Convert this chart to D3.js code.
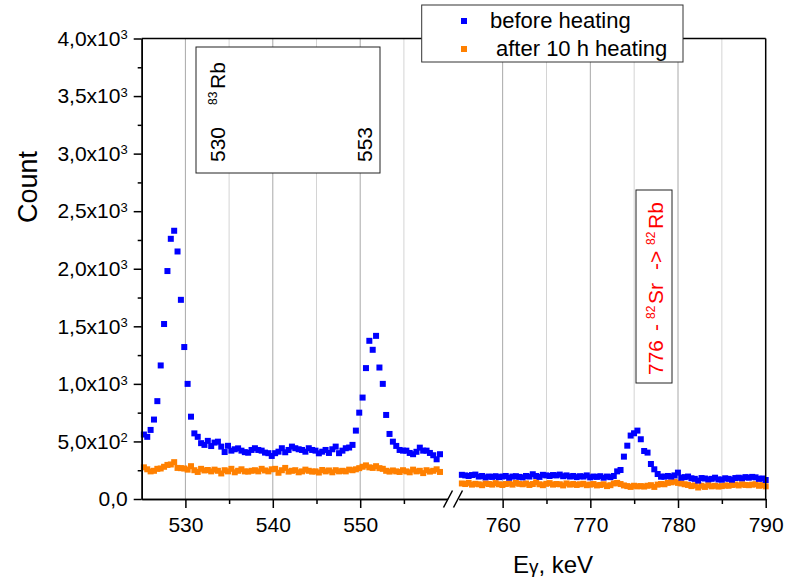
<!DOCTYPE html>
<html>
<head>
<meta charset="utf-8">
<script src="https://cdn.jsdelivr.net/npm/d3@7"></script>
<style>
    body { margin: 0; background: #fff; }
    svg { font-family: Arial, "Liberation Sans", sans-serif; }
</style>
</head>
<body>
<svg id="chart" width="794" height="580"></svg>
<script>
// channel calibration of the two windows (keV)
const seg1Start = 525.25;
const seg2Start = 755.35;
const channelWidth = 0.385;

// counts, window 525-560 keV
const before1 = [560, 540, 600, 690, 850, 1160, 1520, 1980, 2260, 2330, 2150, 1730, 1320, 1000, 715, 570, 540, 485,
    470, 505, 460, 490, 498, 455, 408, 462, 420, 432, 440, 420, 407, 402, 426, 441, 426, 420, 403, 398, 374, 398,
    411, 441, 406, 426, 455, 441, 432, 426, 411, 441, 426, 420, 397, 411, 426, 400, 432, 455, 398, 420, 441, 447,
    470, 594, 750, 881, 1137, 1374, 1296, 1417, 1142, 1000, 730, 565, 498, 461, 426, 420, 420, 400, 389, 410, 446,
    420, 420, 400, 380, 345, 389];
const after1 = [275, 258, 240, 245, 262, 265, 280, 296, 300, 320, 270, 268, 265, 255, 285, 250, 235, 262, 248, 252,
    240, 255, 245, 222, 250, 240, 262, 232, 245, 258, 240, 238, 245, 250, 240, 262, 248, 240, 258, 262, 228, 250,
    270, 238, 245, 250, 232, 240, 255, 245, 238, 240, 230, 252, 240, 248, 232, 250, 240, 245, 240, 255, 250, 258,
    268, 280, 292, 275, 270, 285, 268, 262, 245, 238, 248, 240, 235, 250, 240, 232, 255, 240, 245, 225, 250, 238,
    245, 258, 235];

// counts, window 755-790 keV
const before2 = [210, 205, 200, 208, 212, 195, 200, 188, 195, 192, 198, 190, 195, 200, 185, 195, 198, 192, 188, 200,
    195, 215, 200, 192, 210, 205, 200, 208, 205, 212, 198, 205, 195, 200, 190, 198, 195, 205, 188, 195, 192, 198,
    185, 195, 190, 200, 240, 252, 368, 463, 551, 571, 594, 519, 417, 403, 304, 258, 217, 194, 194, 200, 195, 205,
    229, 185, 190, 195, 180, 175, 160, 182, 178, 170, 175, 185, 170, 168, 180, 175, 168, 182, 185, 180, 190, 185,
    192, 188, 175, 178, 165];
const after2 = [135, 130, 140, 125, 132, 128, 120, 135, 130, 125, 138, 128, 122, 130, 135, 125, 140, 132, 128, 135,
    122, 130, 145, 128, 120, 132, 138, 125, 130, 128, 118, 135, 125, 130, 122, 128, 132, 120, 125, 130, 118, 122,
    128, 112, 120, 135, 140, 130, 118, 112, 105, 115, 110, 112, 108, 115, 120, 105, 125, 130, 128, 140, 145, 150,
    140, 135, 128, 122, 112, 118, 100, 115, 105, 120, 110, 115, 108, 112, 118, 115, 122, 125, 118, 128, 122, 120,
    125, 128, 115, 120, 110];

const xMajor1 = [530, 540, 550];
const xMinor1 = [535, 545, 555];
const xMajor2 = [760, 770, 780, 790];
const xMinor2 = [765, 775, 785];
const yMajor = [0, 500, 1000, 1500, 2000, 2500, 3000, 3500, 4000];
const yMinor = [250, 750, 1250, 1750, 2250, 2750, 3250, 3750];

const seriesNames = ["before heating", "after 10 h heating"];
const seriesColors = ["#0000ff", "#ff8000"];

const svg = d3.select("#chart");
const plotLeft = 141.7, plotRight = 765.7, plotTop = 38.5, plotBottom = 499;

const x1 = d3.scaleLinear().domain([525, 560]).range([plotLeft, 447.6]);
const x2 = d3.scaleLinear().domain([755, 790]).range([458.8, plotRight]);
const y = d3.scaleLinear().domain([0, 4000]).range([plotBottom, plotTop]);

// vertical grid
const grid = svg.append("g");
[[x1, xMinor1, "#d4d4d4"], [x2, xMinor2, "#d4d4d4"], [x1, xMajor1, "#a8a8a8"], [x2, xMajor2.slice(0, 3), "#a8a8a8"]]
    .forEach(([sc, vals, col]) => {
        grid.selectAll(null).data(vals).enter().append("line")
            .attr("x1", d => sc(d)).attr("x2", d => sc(d))
            .attr("y1", plotTop).attr("y2", plotBottom)
            .attr("stroke", col).attr("stroke-width", 1);
    });

// annotation boxes
svg.append("rect").attr("x", 196).attr("y", 47).attr("width", 184).attr("height", 126)
    .attr("fill", "#fff").attr("stroke", "#222").attr("stroke-width", 1);
svg.append("rect").attr("x", 636).attr("y", 190).attr("width", 36).attr("height", 193)
    .attr("fill", "#fff").attr("stroke", "#222").attr("stroke-width", 1);

// vertical label; each part has its offset along the reading direction
function vText(x, yy, parts, color) {
    const t = svg.append("text")
        .attr("transform", `translate(${x},${yy}) rotate(-90)`)
        .attr("font-size", 21).attr("fill", color);
    parts.forEach(p => {
        t.append("tspan").attr("x", p.at).attr("y", p.sup ? -8 : 0)
            .attr("font-size", p.sup ? 12 : null).text(p.t);
    });
    return t;
}
vText(225, 162, [{t: "530", at: 0}], "#000");
vText(372, 162, [{t: "553", at: 0}], "#000");
vText(225, 105, [{t: "83", at: 0, sup: true}, {t: "Rb", at: 16}], "#000");
vText(663, 377, [{t: "776", at: 2}, {t: "-", at: 46}, {t: "82", at: 58, sup: true}, {t: "Sr", at: 73},
    {t: "->", at: 107}, {t: "82", at: 132, sup: true}, {t: "Rb", at: 148}], "#ff0000");

// data points
const plot = svg.append("g");
function drawSeries(vals, start, sc, color) {
    plot.append("g").selectAll("rect").data(vals).enter().append("rect")
        .attr("x", (d, i) => sc(start + i * channelWidth) - 3)
        .attr("y", d => y(d) - 3)
        .attr("width", 6).attr("height", 6)
        .attr("fill", color);
}
drawSeries(after1, seg1Start, x1, seriesColors[1]);
drawSeries(after2, seg2Start, x2, seriesColors[1]);
drawSeries(before1, seg1Start, x1, seriesColors[0]);
drawSeries(before2, seg2Start, x2, seriesColors[0]);

// axes
function styleAxis(g) {
    g.selectAll("path, line").attr("stroke", "#000").attr("stroke-width", 1.5);
    g.selectAll("text").attr("fill", "#000").attr("font-size", 21);
}
svg.append("g").attr("transform", `translate(0,${plotBottom})`)
    .call(d3.axisBottom(x1).tickValues(xMinor1).tickSize(5).tickSizeOuter(0).tickFormat(""))
    .call(styleAxis);
svg.append("g").attr("transform", `translate(0,${plotBottom})`)
    .call(d3.axisBottom(x2).tickValues(xMinor2).tickSize(5).tickSizeOuter(0).tickFormat(""))
    .call(styleAxis);
svg.append("g").attr("transform", `translate(0,${plotBottom})`)
    .call(d3.axisBottom(x1).tickValues(xMajor1).tickSize(9).tickPadding(9).tickSizeOuter(0))
    .call(styleAxis);
svg.append("g").attr("transform", `translate(0,${plotBottom})`)
    .call(d3.axisBottom(x2).tickValues(xMajor2).tickSize(9).tickPadding(9).tickSizeOuter(0))
    .call(styleAxis);

svg.append("g").attr("transform", `translate(${plotLeft},0)`)
    .call(d3.axisLeft(y).tickValues(yMinor).tickSize(4).tickSizeOuter(0).tickFormat(""))
    .call(styleAxis);
svg.append("g").attr("transform", `translate(${plotLeft},0)`)
    .call(d3.axisLeft(y).tickValues(yMajor).tickSize(8).tickPadding(6).tickSizeOuter(0))
    .call(styleAxis)
    .selectAll(".tick text").each(function (v) {
        const t = d3.select(this).text("");
        if (v === 0) { t.text("0,0"); return; }
        const exp = v >= 1000 ? 3 : 2;
        t.append("tspan").text((v / Math.pow(10, exp)).toFixed(1).replace(".", ",") + "x10");
        t.append("tspan").attr("dy", "-0.5em").attr("font-size", 13).text(exp);
    });

// top and right frame
svg.append("line").attr("x1", plotLeft).attr("x2", plotRight).attr("y1", plotTop).attr("y2", plotTop)
    .attr("stroke", "#000").attr("stroke-width", 1.5);
svg.append("line").attr("x1", plotRight).attr("x2", plotRight).attr("y1", plotTop).attr("y2", plotBottom)
    .attr("stroke", "#000").attr("stroke-width", 1.5);

// axis break marks
[448, 458].forEach(bx => {
    svg.append("line").attr("x1", bx - 4.5).attr("x2", bx + 4.5).attr("y1", plotBottom + 8.5).attr("y2", plotBottom - 8.5)
        .attr("stroke", "#000").attr("stroke-width", 1.5);
});

// axis titles
svg.append("text").attr("transform", "translate(36.7,187) rotate(-90)")
    .attr("text-anchor", "middle").attr("font-size", 27).text("Count");
const xt = svg.append("text").attr("x", 553).attr("y", 573).attr("text-anchor", "middle").attr("font-size", 24);
xt.append("tspan").text("E");
xt.append("tspan").attr("font-size", 19).text("γ");
xt.append("tspan").text(", keV");

// legend
const lg = svg.append("g");
lg.append("rect").attr("x", 421.7).attr("y", 5).attr("width", 261.3).attr("height", 57)
    .attr("fill", "#fff").attr("stroke", "#333").attr("stroke-width", 1);
seriesNames.forEach((name, i) => {
    lg.append("rect").attr("x", 461).attr("y", 18 + i * 28).attr("width", 6).attr("height", 6)
        .attr("fill", seriesColors[i]);
    lg.append("text").attr("x", i === 0 ? 490 : 496).attr("y", 28 + i * 28)
        .attr("font-size", 22).text(name);
});
</script>
</body>
</html>
